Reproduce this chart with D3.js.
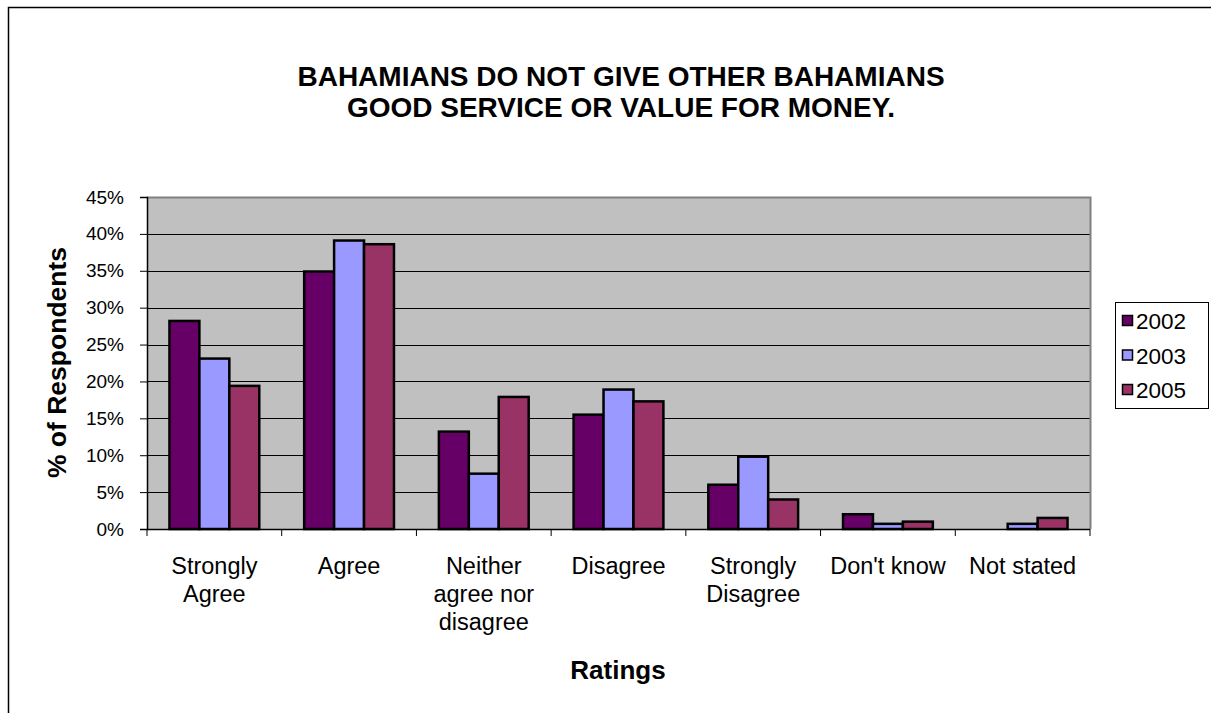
<!DOCTYPE html>
<html>
<head>
<meta charset="utf-8">
<script src="https://cdn.jsdelivr.net/npm/d3@7"></script>
<style>
  html, body { margin: 0; padding: 0; background: #ffffff; }
  svg { display: block; }
  text { font-family: "Liberation Sans", Arial, Helvetica, sans-serif; fill: #000; }
</style>
</head>
<body>
<svg id="chart" width="1211" height="713"></svg>
<script>
// Survey ratings, share of respondents per year
const categories = [
  ["Strongly", "Agree"],
  ["Agree"],
  ["Neither", "agree nor", "disagree"],
  ["Disagree"],
  ["Strongly", "Disagree"],
  ["Don't know"],
  ["Not stated"]
];
const years = ["2002", "2003", "2005"];
const values2002 = [28.2, 34.9, 13.2, 15.5, 6.0, 2.0, 0.0];
const values2003 = [23.1, 39.1, 7.5, 18.9, 9.8, 0.7, 0.7];
const values2005 = [19.4, 38.6, 17.9, 17.3, 4.0, 1.0, 1.5];
const yTicks = [0, 5, 10, 15, 20, 25, 30, 35, 40, 45];
const titleLines = ["BAHAMIANS DO NOT GIVE OTHER BAHAMIANS", "GOOD SERVICE OR VALUE FOR MONEY."];

const seriesValues = [values2002, values2003, values2005];
const colors = ["#660066", "#9999FF", "#993366"];

const svg = d3.select("#chart");

// Outer chart frame
svg.append("rect")
  .attr("x", 8.5).attr("y", 7.5)
  .attr("width", 1240).attr("height", 740)
  .attr("fill", "#fff").attr("stroke", "#000").attr("stroke-width", 1.5);

const plot = { left: 147, right: 1090, top: 197, bottom: 529 };

const catIdx = categories.map((d, i) => i);
const x0 = d3.scaleBand().domain(catIdx).range([plot.left, plot.right]).paddingInner(0).paddingOuter(0);
// bars occupy 3 of 4.5 slots (gap = 150% of a bar)
const groupW = x0.bandwidth() * 3 / 4.5;
const x1 = d3.scaleBand().domain(d3.range(years.length)).range([0, groupW]).padding(0);
const y = d3.scaleLinear().domain([0, 45]).range([plot.bottom, plot.top]);

// Plot background
svg.append("rect")
  .attr("x", plot.left).attr("y", plot.top)
  .attr("width", plot.right - plot.left).attr("height", plot.bottom - plot.top)
  .attr("fill", "#C0C0C0");

// Gridlines
svg.append("g")
  .selectAll("line")
  .data(yTicks.filter(t => t > 0 && t < 45))
  .join("line")
  .attr("x1", plot.left).attr("x2", plot.right)
  .attr("y1", d => Math.round(y(d)) + 0.5).attr("y2", d => Math.round(y(d)) + 0.5)
  .attr("stroke", "#000").attr("stroke-width", 1);

// Plot frame (top and right)
svg.append("path")
  .attr("d", `M${plot.left},${plot.top + 0.5}H${plot.right + 0.5}V${plot.bottom}`)
  .attr("fill", "none").attr("stroke", "#808080").attr("stroke-width", 2);

// Bars
const groups = svg.append("g")
  .selectAll("g")
  .data(catIdx)
  .join("g")
  .attr("transform", i => `translate(${x0(i) + (x0.bandwidth() - groupW) / 2},0)`);

groups.selectAll("rect")
  .data(i => seriesValues.map((vals, s) => ({ s, v: vals[i] })))
  .join("rect")
  .filter(d => d.v > 0)
  .attr("x", d => x1(d.s))
  .attr("y", d => y(d.v))
  .attr("width", x1.bandwidth())
  .attr("height", d => y(0) - y(d.v))
  .attr("fill", d => colors[d.s])
  .attr("stroke", "#000").attr("stroke-width", 2.5);

// Y axis
const yAxis = d3.axisLeft(y).tickValues(yTicks).tickFormat(d => d + "%").tickSize(7).tickPadding(16);
const gy = svg.append("g").attr("transform", `translate(${plot.left},0)`).call(yAxis);
gy.select(".domain").attr("stroke", "#000").attr("stroke-width", 1.5);
gy.selectAll(".tick line").attr("stroke", "#000");
gy.selectAll(".tick text")
  .attr("font-size", 19).attr("font-family", '"Liberation Sans", Arial, sans-serif').attr("fill", "#000");

// X axis with ticks at category boundaries
const boundaries = d3.range(categories.length + 1).map(i => plot.left + i * x0.bandwidth());
const gx = svg.append("g");
gx.append("line")
  .attr("x1", plot.left).attr("x2", plot.right)
  .attr("y1", plot.bottom + 0.5).attr("y2", plot.bottom + 0.5)
  .attr("stroke", "#000").attr("stroke-width", 1.5);
gx.selectAll("line.tk")
  .data(boundaries)
  .join("line").attr("class", "tk")
  .attr("x1", d => d).attr("x2", d => d)
  .attr("y1", plot.bottom).attr("y2", plot.bottom + 7)
  .attr("stroke", "#000");

const xl = gx.selectAll("text.cat")
  .data(categories)
  .join("text").attr("class", "cat")
  .attr("text-anchor", "middle")
  .attr("font-size", 23.5);
xl.selectAll("tspan")
  .data((lines, i) => lines.map(l => ({ l, i })))
  .join("tspan")
  .attr("x", d => x0(d.i) + x0.bandwidth() / 2)
  .attr("y", (d, j) => 574 + j * 28)
  .text(d => d.l);

// Title
svg.append("text")
  .attr("text-anchor", "middle")
  .attr("font-size", 28).attr("font-weight", "bold")
  .selectAll("tspan")
  .data(titleLines)
  .join("tspan")
  .attr("x", 621)
  .attr("y", (d, i) => 86 + i * 31)
  .text(d => d);

// Axis titles
svg.append("text")
  .attr("text-anchor", "middle")
  .attr("font-size", 26.5).attr("font-weight", "bold")
  .attr("transform", "translate(66,362.5) rotate(-90)")
  .text("% of Respondents");

svg.append("text")
  .attr("text-anchor", "middle")
  .attr("font-size", 26).attr("font-weight", "bold")
  .attr("x", 618).attr("y", 679)
  .text("Ratings");

// Legend
const legend = svg.append("g");
legend.append("rect")
  .attr("x", 1115.5).attr("y", 302.5)
  .attr("width", 93).attr("height", 106)
  .attr("fill", "#fff").attr("stroke", "#000").attr("stroke-width", 1);
const items = legend.selectAll("g.item")
  .data(years)
  .join("g").attr("class", "item")
  .attr("transform", (d, i) => `translate(1122,${321 + i * 34.5})`);
items.append("rect")
  .attr("x", 0.5).attr("y", -5.5)
  .attr("width", 10).attr("height", 10)
  .attr("fill", (d, i) => colors[i])
  .attr("stroke", "#000").attr("stroke-width", 1.5);
items.append("text")
  .attr("x", 14).attr("y", 8)
  .attr("font-size", 22.5)
  .text(d => d);
</script>
</body>
</html>
